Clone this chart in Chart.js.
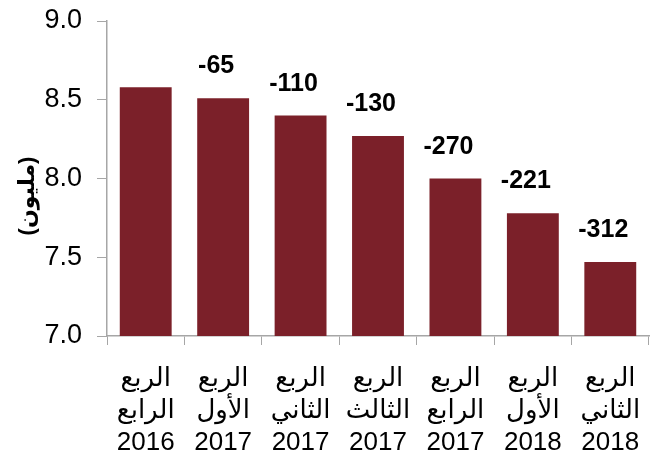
<!DOCTYPE html>
<html><head><meta charset="utf-8">
<script src="https://cdn.jsdelivr.net/npm/chart.js@4/dist/chart.umd.min.js"></script>
<style>html,body{margin:0;padding:0;background:#fff}#w{width:654px;height:454px}</style>
</head><body><div id="w"><canvas id="c" width="654" height="454"></canvas></div>
<script>
const quarterLine = ['الربع','الربع','الربع','الربع','الربع','الربع','الربع'];
const quarterName = ['الرابع','الأول','الثاني','الثالث','الرابع','الأول','الثاني'];
const years = ['2016','2017','2017','2017','2017','2018','2018'];
const values = [8.58, 8.51, 8.40, 8.27, 8.00, 7.78, 7.47];
const changes = ['', '-65', '-110', '-130', '-270', '-221', '-312'];
const yTitle = '(مليون)';
const yTicks = [7.0, 7.5, 8.0, 8.5, 9.0];

const FONT = 'Arial, "Liberation Sans", "DejaVu Sans", sans-serif';
const labels = years.map((y,i)=>[quarterLine[i], quarterName[i], y]);

const labelPlugin = {
  id:'lbls',
  afterDatasetsDraw(chart){
    const ctx = chart.ctx;
    const meta = chart.getDatasetMeta(0);
    ctx.save();
    ctx.fillStyle = '#000';
    ctx.font = 'bold 25px ' + FONT;
    ctx.textAlign = 'center';
    ctx.textBaseline = 'alphabetic';
    meta.data.forEach((bar,i)=>{
      if(!changes[i]) return;
      ctx.fillText(changes[i], bar.x - 7, bar.y - 25);
    });
    ctx.restore();
    ctx.save();
    ctx.translate(28, 196);
    ctx.rotate(-Math.PI/2);
    ctx.font = 'bold 22px ' + FONT;
    ctx.fillStyle = '#000';
    ctx.textAlign = 'center';
    ctx.textBaseline = 'middle';
    ctx.fillText(yTitle, 0, 0);
    ctx.restore();
  }
};

new Chart(document.getElementById('c'), {
  type:'bar',
  data:{ labels, datasets:[{ data: values, backgroundColor:'#7B2029', borderWidth:0,
    categoryPercentage:1, barPercentage:0.67 }]},
  options:{
    responsive:false, animation:false,
    layout:{ padding:{ left:0, right:5, top:21, bottom:0 } },
    plugins:{ legend:{display:false}, tooltip:{enabled:false} },
    scales:{
      x:{
        grid:{ display:true, drawOnChartArea:false, drawTicks:true, tickLength:9, color:'#a6a6a6', offset:true },
        border:{ color:'#a6a6a6', width:1.5 },
        ticks:{ color:'#000', font:{ family:FONT, size:26, lineHeight:1.23 }, padding:18, maxRotation:0, autoSkip:false },
        afterFit(s){ s.height = 118; s.paddingLeft = 0; s.paddingRight = 0; }
      },
      y:{
        min:7, max:9,
        afterBuildTicks(s){ s.ticks = yTicks.map(v=>({value:v})); },
        grid:{ display:true, drawOnChartArea:false, drawTicks:true, tickLength:10, color:'#a6a6a6' },
        border:{ color:'#a6a6a6', width:1.5 },
        ticks:{ color:'#000', font:{ family:FONT, size:27 }, padding:15, callback:(v)=>Number(v).toFixed(1) },
        afterFit(s){ s.width = 107; s.paddingTop = 0; s.paddingBottom = 0; }
      }
    }
  },
  plugins:[labelPlugin]
});
</script></body></html>
